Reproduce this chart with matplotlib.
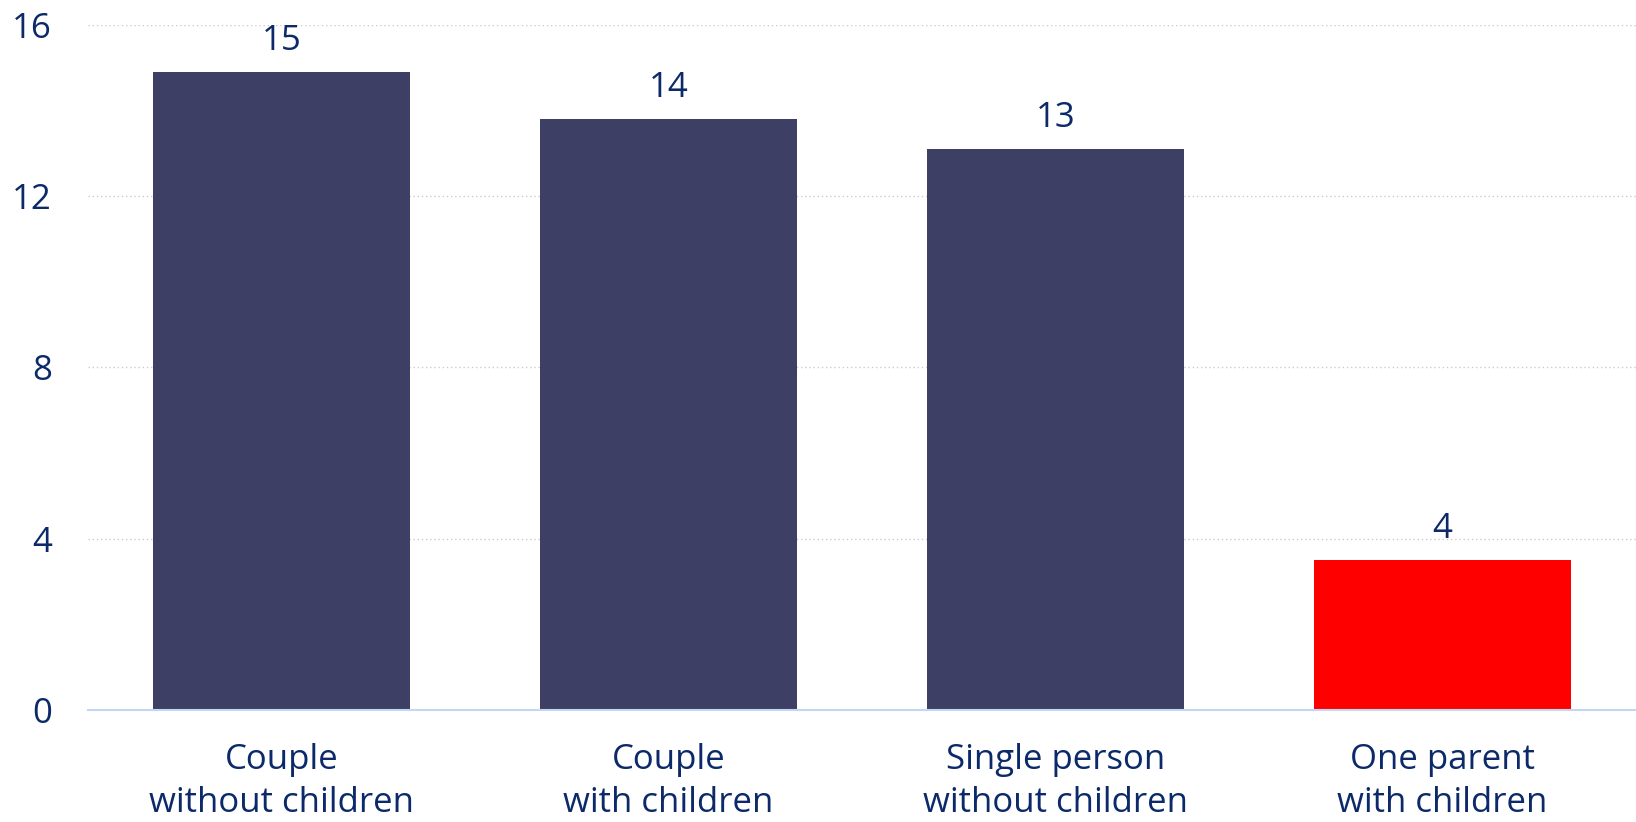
import matplotlib
matplotlib.use("Agg")
import matplotlib.pyplot as plt

categories = ["Couple\nwithout children", "Couple\nwith children",
              "Single person\nwithout children", "One parent\nwith children"]
values = [14.9, 13.8, 13.1, 3.5]
bar_colors = ["#3d3f65", "#3d3f65", "#3d3f65", "#ff0000"]
yticks = [0, 4, 8, 12, 16]

plt.rcParams['font.family'] = ['Open Sans', 'DejaVu Sans']

W, H = 1636, 822
fig = plt.figure(figsize=(W / 100, H / 100), dpi=100)
ax = fig.add_axes([88 / W, 1 - 710 / H, 1 - 88 / W, (710 - 24.5) / H])

text_color = "#0c2a69"
fs = 25

x = list(range(len(categories)))
ax.bar(x, values, width=0.665, color=bar_colors, zorder=3)
for xi, v in zip(x, values):
    ax.annotate(f"{int(v + 0.5)}", (xi, v), xytext=(0, 10), textcoords="offset points",
                ha="center", va="bottom", fontsize=fs, color=text_color)

ax.set_xlim(-0.5, len(categories) - 0.5)
ax.set_ylim(0, 16)
ax.set_yticks(yticks)
ax.set_yticklabels([str(t) for t in yticks])
ax.set_xticks(x)
ax.set_xticklabels(categories)
ax.tick_params(axis="y", length=0, pad=26, labelsize=fs, labelcolor=text_color)
ax.tick_params(axis="x", length=0, pad=24, labelsize=fs, labelcolor=text_color)
for lbl in ax.get_xticklabels():
    lbl.set_linespacing(1.32)

ax.yaxis.grid(True, linestyle=(0, (1, 2)), color="#cccccc", linewidth=1, zorder=0)
ax.set_axisbelow(True)
for s in ["left", "right", "top"]:
    ax.spines[s].set_visible(False)
ax.spines["bottom"].set_color("#c5d6f5")
ax.spines["bottom"].set_linewidth(1.5)
ax.spines["bottom"].set_zorder(4)

fig.savefig("out.png", dpi=100)
